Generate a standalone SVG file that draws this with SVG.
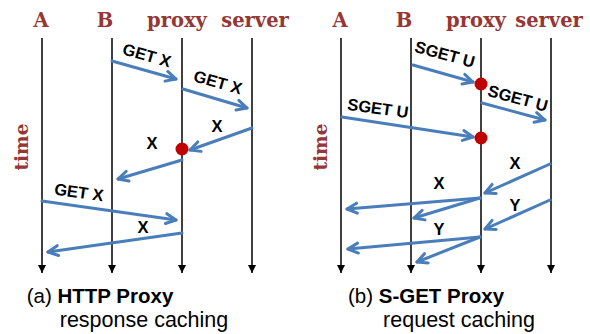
<svg xmlns="http://www.w3.org/2000/svg" width="590" height="334" viewBox="0 0 590 334">
<style>
.hdr{font-family:"DejaVu Serif",serif;font-weight:bold;font-size:19.5px;fill:#953735;text-anchor:middle}
.time{font-size:18.5px}
.life{stroke:#000;stroke-width:1.5;fill:none;marker-end:url(#tri)}
.msg{stroke:#4A7EBB;stroke-width:3;fill:none;stroke-linecap:round;marker-end:url(#arr)}
.lbl{font-family:"Liberation Sans",Arial,sans-serif;font-weight:bold;font-size:16.5px;fill:#000;text-anchor:middle;dominant-baseline:central}
.dot{fill:#C00000}
.cap{font-family:"Liberation Sans",Arial,sans-serif;font-size:20.5px;fill:#000;text-anchor:middle}
.cap2{font-size:21.5px}
</style>
<defs>
<marker id="tri" markerWidth="10" markerHeight="10" refX="8" refY="4" orient="auto" markerUnits="userSpaceOnUse" overflow="visible"><path d="M0,0 L8,4 L0,8 z" fill="#000"/></marker>
<marker id="arr" markerWidth="14" markerHeight="14" refX="11" refY="6" orient="auto" markerUnits="userSpaceOnUse" overflow="visible"><path d="M1,1 L11,6 L1,11" fill="none" stroke="#4A7EBB" stroke-width="3" stroke-linecap="round" stroke-linejoin="round"/></marker>
</defs>

<!-- Panel (a) -->
<g id="a-A"><text class="hdr" x="41" y="27">A</text><line class="life" x1="42" y1="38" x2="42" y2="273"/></g>
<g id="a-B"><text class="hdr" x="105" y="27">B</text><line class="life" x1="112" y1="38" x2="112" y2="273"/></g>
<g id="a-proxy"><text class="hdr" x="177" y="27">proxy</text><line class="life" x1="182" y1="38" x2="182" y2="273"/></g>
<g id="a-server"><text class="hdr" x="255" y="27">server</text><line class="life" x1="252" y1="38" x2="252" y2="273"/></g>
<text class="hdr time" transform="translate(28,147) rotate(-90)">time</text>

<g id="a-connectors">
<line class="msg" x1="112" y1="61" x2="176" y2="79"/>
<line class="msg" x1="183" y1="89" x2="247" y2="108"/>
<line class="msg" x1="252" y1="128" x2="190" y2="150"/>
<line class="msg" x1="182" y1="160" x2="118" y2="179"/>
<line class="msg" x1="42" y1="201" x2="176" y2="220"/>
<line class="msg" x1="182" y1="233" x2="48" y2="252"/>
</g>
<g id="a-labels">
<text class="lbl" transform="translate(147,55) rotate(16)">GET X</text>
<text class="lbl" transform="translate(218,82) rotate(16)">GET X</text>
<text class="lbl" x="217" y="126">X</text>
<text class="lbl" x="152" y="143">X</text>
<text class="lbl" transform="translate(79,192) rotate(8)">GET X</text>
<text class="lbl" x="143" y="227">X</text>
</g>
<circle id="a-cache" class="dot" cx="182" cy="149" r="6.5"/>
<g id="a-caption">
<text class="cap" x="100" y="303">(a) <tspan font-weight="bold">HTTP Proxy</tspan></text>
<text class="cap cap2" x="144" y="327">response caching</text>
</g>

<!-- Panel (b) -->
<g id="b-A"><text class="hdr" x="340" y="27">A</text><line class="life" x1="341" y1="38" x2="341" y2="273"/></g>
<g id="b-B"><text class="hdr" x="404" y="27">B</text><line class="life" x1="411" y1="38" x2="411" y2="273"/></g>
<g id="b-proxy"><text class="hdr" x="476" y="27">proxy</text><line class="life" x1="481" y1="38" x2="481" y2="273"/></g>
<g id="b-server"><text class="hdr" x="549" y="27">server</text><line class="life" x1="551" y1="38" x2="551" y2="273"/></g>
<text class="hdr time" transform="translate(327,147) rotate(-90)">time</text>

<g id="b-connectors">
<line class="msg" x1="413" y1="65" x2="473" y2="82"/>
<line class="msg" x1="482" y1="103" x2="545" y2="120"/>
<line class="msg" x1="342" y1="117" x2="473" y2="137"/>
<line class="msg" x1="550" y1="164" x2="485" y2="193"/>
<line class="msg" x1="480" y1="198" x2="347" y2="209"/>
<line class="msg" x1="480" y1="198" x2="414" y2="218"/>
<line class="msg" x1="550" y1="200" x2="485" y2="229"/>
<line class="msg" x1="480" y1="237" x2="348" y2="249"/>
<line class="msg" x1="480" y1="237" x2="417" y2="262"/>
</g>
<g id="b-labels">
<text class="lbl" transform="translate(445,54) rotate(15)">SGET U</text>
<text class="lbl" transform="translate(518,98) rotate(15)">SGET U</text>
<text class="lbl" transform="translate(378,108) rotate(8)">SGET U</text>
<text class="lbl" x="515" y="163">X</text>
<text class="lbl" x="439" y="183">X</text>
<text class="lbl" x="515" y="205">Y</text>
<text class="lbl" x="439" y="229">Y</text>
</g>
<circle id="b-cache1" class="dot" cx="481" cy="84" r="6.5"/>
<circle id="b-cache2" class="dot" cx="481" cy="138" r="6.5"/>
<g id="b-caption">
<text class="cap" x="426" y="303">(b) <tspan font-weight="bold">S-GET Proxy</tspan></text>
<text class="cap cap2" x="459" y="327">request caching</text>
</g>
</svg>
